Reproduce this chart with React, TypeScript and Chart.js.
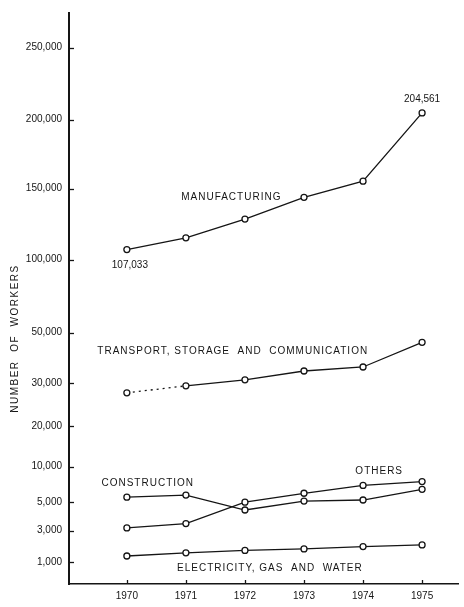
import React, { useEffect, useRef } from 'react';
import { Chart, registerables, LinearScale } from 'chart.js';

Chart.register(...registerables);

// ---- data ----
const YEARS = [1970, 1971, 1972, 1973, 1974, 1975];
const MANUFACTURING = [107033, 115300, 128500, 143800, 155300, 204561];
const TRANSPORT = [27700, 29300, 31200, 34700, 36300, 46100];
const CONSTRUCTION = [5700, 6000, 4450, 5150, 5300, 6800];
const OTHERS = [3200, 3500, 5000, 6250, 7350, 7900];
const ELECTRICITY = [1400, 1600, 1750, 1850, 2000, 2100];

const Y_TICKS = [1000, 3000, 5000, 10000, 20000, 30000, 50000, 100000, 150000, 200000, 250000];
// relative spacing of the (non-uniform) printed axis, one entry per tick
const Y_TICK_UNITS = [0, 32, 61, 97, 138, 182, 233, 307, 379, 449, 522];
const Y_UNIT_RANGE = [-22, 557];

const Y_TITLE = 'NUMBER OF WORKERS';
const SERIES_LABELS = [
  { text: 'MANUFACTURING', year: 1970.92, value: 144000 },
  { text: 'TRANSPORT, STORAGE  AND  COMMUNICATION', year: 1969.5, value: 42500 },
  { text: 'CONSTRUCTION', year: 1969.57, value: 7600 },
  { text: 'OTHERS', year: 1973.87, value: 9300 },
  { text: 'ELECTRICITY, GAS  AND  WATER', year: 1970.85, value: 620 },
];

const FONT_FAMILY = '"Liberation Sans", Arial, sans-serif';
const INK = '#151515';

function valueToUnit(v: number): number {
  let i = 0;
  while (i < Y_TICKS.length - 2 && v > Y_TICKS[i + 1]) i++;
  const t = (v - Y_TICKS[i]) / (Y_TICKS[i + 1] - Y_TICKS[i]);
  return Y_TICK_UNITS[i] + t * (Y_TICK_UNITS[i + 1] - Y_TICK_UNITS[i]);
}
function unitToValue(u: number): number {
  let i = 0;
  while (i < Y_TICK_UNITS.length - 2 && u > Y_TICK_UNITS[i + 1]) i++;
  const t = (u - Y_TICK_UNITS[i]) / (Y_TICK_UNITS[i + 1] - Y_TICK_UNITS[i]);
  return Y_TICKS[i] + t * (Y_TICKS[i + 1] - Y_TICKS[i]);
}

class BrokenScale extends LinearScale {
  static id = 'broken';
  buildTicks() {
    return Y_TICKS.map((value) => ({ value }));
  }
  getPixelForValue(value: number) {
    const u = valueToUnit(value);
    return this.getPixelForDecimal((u - Y_UNIT_RANGE[0]) / (Y_UNIT_RANGE[1] - Y_UNIT_RANGE[0]));
  }
  getValueForPixel(pixel: number) {
    const d = this.getDecimalForPixel(pixel);
    return unitToValue(Y_UNIT_RANGE[0] + d * (Y_UNIT_RANGE[1] - Y_UNIT_RANGE[0]));
  }
}
Chart.register(BrokenScale as any);

const annotatePlugin = {
  id: 'annotate',
  afterDatasetsDraw(chart: any) {
    const { ctx, scales, chartArea } = chart;
    const x = scales.x;
    const y = scales.y;
    ctx.save();
    ctx.strokeStyle = INK;
    ctx.lineWidth = 1.3;
    y.ticks.forEach((_t: any, i: number) => {
      const py = Math.round(y.getPixelForTick(i)) + 0.5;
      ctx.beginPath();
      ctx.moveTo(chartArea.left, py);
      ctx.lineTo(chartArea.left + 5, py);
      ctx.stroke();
    });
    x.ticks.forEach((_t: any, i: number) => {
      const px = Math.round(x.getPixelForTick(i)) + 0.5;
      ctx.beginPath();
      ctx.moveTo(px, chartArea.bottom);
      ctx.lineTo(px, chartArea.bottom - 4);
      ctx.stroke();
    });

    ctx.fillStyle = INK;
    ctx.font = `10px ${FONT_FAMILY}`;
    ctx.textBaseline = 'middle';
    (ctx as any).letterSpacing = '1px';
    ctx.textAlign = 'left';
    SERIES_LABELS.forEach((l) => {
      ctx.fillText(l.text, x.getPixelForValue(l.year), y.getPixelForValue(l.value));
    });

    (ctx as any).letterSpacing = '0px';
    ctx.textAlign = 'center';
    const meta = chart.getDatasetMeta(0);
    const first = meta.data[0];
    const last = meta.data[meta.data.length - 1];
    const fmt = (v: number) => v.toLocaleString('en-US');
    ctx.fillText(fmt(MANUFACTURING[0]), first.x + 3, first.y + 16);
    ctx.fillText(fmt(MANUFACTURING[MANUFACTURING.length - 1]), last.x, last.y - 14);

    (ctx as any).letterSpacing = '1.5px';
    ctx.translate(15, (chartArea.top + chartArea.bottom) / 2 + 40);
    ctx.rotate(-Math.PI / 2);
    ctx.fillText(Y_TITLE.split(' ').join('  '), 0, 0);
    ctx.restore();
  },
};

function makeSeries(values: number[]) {
  return YEARS.map((yr, i) => ({ x: yr, y: values[i] }));
}

export default function App() {
  const ref = useRef<HTMLCanvasElement>(null);
  useEffect(() => {
    if (!ref.current) return;
    const common = {
      borderColor: INK,
      borderWidth: 1.3,
      pointRadius: 3,
      pointBorderWidth: 1.3,
      pointBackgroundColor: '#fff',
      pointBorderColor: INK,
      tension: 0,
      fill: false,
    };
    const chart = new Chart(ref.current, {
      type: 'line',
      data: {
        datasets: [
          { label: 'Manufacturing', data: makeSeries(MANUFACTURING), ...common },
          {
            label: 'Transport, storage and communication',
            data: makeSeries(TRANSPORT),
            ...common,
            segment: { borderDash: (c: any) => (c.p0DataIndex === 0 ? [2, 4] : undefined) },
          },
          { label: 'Construction', data: makeSeries(CONSTRUCTION), ...common },
          { label: 'Others', data: makeSeries(OTHERS), ...common },
          { label: 'Electricity, gas and water', data: makeSeries(ELECTRICITY), ...common },
        ],
      },
      options: {
        animation: false,
        responsive: false,
        devicePixelRatio: 1,
        layout: { padding: { top: 5, left: 0, right: 0, bottom: 0 } },
        plugins: { legend: { display: false }, tooltip: { enabled: false } },
        font: { family: FONT_FAMILY },
        scales: {
          x: {
            type: 'linear',
            min: 1969.02,
            max: 1975.62,
            afterBuildTicks: (s: any) => {
              s.ticks = YEARS.map((value) => ({ value }));
            },
            afterFit: (s: any) => {
              s.height = 23;
            },
            grid: { display: false, drawTicks: false },
            border: { display: true, color: INK, width: 1.6 },
            ticks: {
              color: INK,
              padding: 6,
              autoSkip: false,
              maxRotation: 0,
              font: { family: FONT_FAMILY, size: 10 },
              callback: (v: any) => String(v),
            },
          },
          y: {
            type: 'broken' as any,
            min: 0,
            max: 300000,
            afterFit: (s: any) => {
              s.width = 69;
            },
            grid: { display: false, drawTicks: false },
            border: { display: true, color: INK, width: 2 },
            ticks: {
              color: INK,
              padding: 7,
              autoSkip: false,
              font: { family: FONT_FAMILY, size: 10 },
              callback: (v: any) => Number(v).toLocaleString('en-US'),
            },
          } as any,
        },
      } as any,
      plugins: [annotatePlugin],
    });
    return () => chart.destroy();
  }, []);
  return (
    <div style={{ position: 'fixed', left: 0, top: 0, width: 464, height: 607, background: '#fff' }}>
      <canvas ref={ref} width={464} height={607} style={{ width: 464, height: 607, display: 'block' }} />
    </div>
  );
}
